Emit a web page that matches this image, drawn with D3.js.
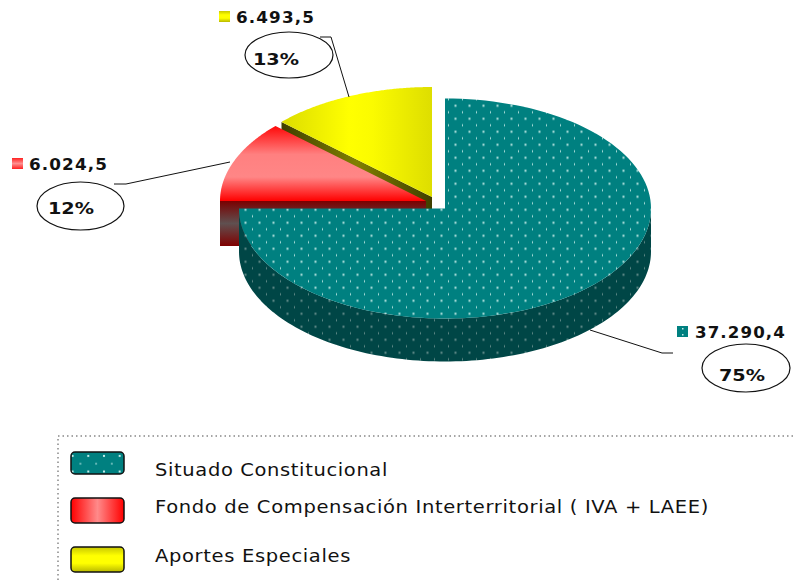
<!DOCTYPE html>
<html><head><meta charset="utf-8">
<script src="https://cdn.jsdelivr.net/npm/d3@7"></script>
<style>html,body{margin:0;background:#fff}svg{display:block}text{font-family:"DejaVu Sans",Verdana,sans-serif;fill:#111}</style>
</head><body><div id="c"></div>
<script>
const categories=["Situado Constitucional","Fondo de Compensación Interterritorial ( IVA + LAEE)","Aportes Especiales"];
const values=[37290.4,6024.5,6493.5];
const valueLabels=["37.290,4","6.024,5","6.493,5"];
const percentLabels=["75%","12%","13%"];

const W=793,H=582;
const svg=d3.select("#c").append("svg").attr("width",W).attr("height",H);
const defs=svg.append("defs");
function grad(id,x2,y2,stops){
  const g=defs.append("linearGradient").attr("id",id).attr("x1",0).attr("y1",0).attr("x2",x2).attr("y2",y2);
  stops.forEach(([o,c])=>g.append("stop").attr("offset",o).attr("stop-color",c));
}
grad("redTop",0,1,[[0,"#ff0808"],[.38,"#ff8080"],[.68,"#ff8686"],[1,"#ff0000"]]);
grad("redSide",0,1,[[0,"#7a0000"],[.5,"#5f5050"],[1,"#800000"]]);
grad("yelTop",1,0,[[0,"#dcdc00"],[.45,"#ffff00"],[.6,"#fbfb00"],[1,"#dede00"]]);
grad("yelCut",1,0,[[0,"#3f3f00"],[.5,"#808000"],[1,"#3f3f00"]]);
grad("redKey",1,0,[[0,"#ff0000"],[.5,"#ff8a8a"],[1,"#ff0000"]]);
grad("yelKey",0,1,[[0,"#c8c800"],[.35,"#ffff00"],[.65,"#ffff00"],[1,"#b8b800"]]);
grad("redMini",0,1,[[0,"#ff2020"],[.5,"#ff9090"],[1,"#ff2020"]]);
function dots(id,bg,dot,ox,oy,pw,ph){
  const p=defs.append("pattern").attr("id",id).attr("patternUnits","userSpaceOnUse")
    .attr("width",pw).attr("height",ph).attr("patternTransform",`translate(${ox},${oy})`);
  p.append("rect").attr("width",pw).attr("height",ph).attr("fill",bg);
  p.append("rect").attr("x",pw*.75-1).attr("y",ph*.25-1).attr("width",2).attr("height",2).attr("fill",dot);
  p.append("rect").attr("x",pw*.25-.5).attr("y",ph*.75-1).attr("width",1).attr("height",2).attr("fill",dot);
}
dots("teal","#008080","#b4e2de",445,102.5,14,13);
dots("tealDark","#004646","#648c8a",445,102.5,14,13);
dots("tealKey","#008080","#c4ecea",76.5,452,15.7,15.6);

const pie=d3.pie().sort(null).value(d=>d)(values);
const RX=206,RY=110,DEPTH=43;
const centers=[{x:445,y:208.5},{x:426,y:201},{x:432,y:197}];
const xS=d3.scaleLinear().domain([-1,1]).range([-RX,RX]);
const yS=d3.scaleLinear().domain([-1,1]).range([-RY,RY]);
const pt=(a,c,dy=0)=>[c.x+xS(Math.sin(a)),c.y-yS(Math.cos(a))+dy];
const arcPts=(a0,a1,c,dy=0)=>d3.range(0,121).map(i=>pt(a0+(a1-a0)*i/120,c,dy));
const line=d3.line();
const g=svg.append("g");

const yel=pie[2], red=pie[1], tea=pie[0];
const cy=centers[2], cr=centers[1], ct=centers[0];
const yTip=pt(yel.startAngle,cy);
g.append("path").attr("d",line([yTip,[cy.x,cy.y],[cy.x,cy.y+DEPTH],[yTip[0],yTip[1]+DEPTH]])+"Z").attr("fill","url(#yelCut)");
g.append("path").attr("d",line([[cy.x,cy.y],...arcPts(yel.startAngle,yel.endAngle,cy)])+"Z").attr("fill","url(#yelTop)");
const rL=pt(3*Math.PI/2,cr);
g.append("rect").attr("x",rL[0]).attr("y",cr.y).attr("width",cr.x-rL[0]).attr("height",DEPTH+2).attr("fill","url(#redSide)");
g.append("path").attr("d",line([[cr.x,cr.y],...arcPts(3*Math.PI/2,red.endAngle,cr)])+"Z").attr("fill","url(#redTop)");

g.append("path").attr("d",line([...arcPts(Math.PI/2,3*Math.PI/2,ct),...arcPts(3*Math.PI/2,Math.PI/2,ct,DEPTH)])+"Z").attr("fill","url(#tealDark)");
g.append("path").attr("d",line([[ct.x,ct.y],...arcPts(tea.startAngle,3*Math.PI/2,ct)])+"Z").attr("fill","url(#teal)");

const leaders=[[[590,330],[662,353],[673,353]],[[114,184],[126,184],[230,162]],[[320,37],[331,37],[349,97]]];
svg.selectAll("path.lead").data(leaders).join("path").attr("class","lead").attr("d",line).attr("fill","none").attr("stroke","#111").attr("stroke-width",1);

const mini=defs.append("pattern").attr("id","tealMini").attr("patternUnits","userSpaceOnUse").attr("width",11).attr("height",6).attr("patternTransform","translate(677,326)");
mini.append("rect").attr("width",11).attr("height",6).attr("fill","#008080");
mini.append("rect").attr("x",5).attr("y",2).attr("width",1.5).attr("height",1.5).attr("fill","#c4ecea");

const fills=["url(#tealMini)","url(#redMini)","url(#yelKey)"];
const labels=[{kx:677,ky:326,tx:695,ty:338,w:91,ex:746,ey:368,erx:44,ery:24,px:719,py:381},
 {kx:12,ky:158,tx:29,ty:170,w:79,ex:80.5,ey:206,erx:43.5,ery:24,px:48,py:214},
 {kx:219,ky:11,tx:236,ty:23,w:79,ex:289,ey:55,erx:44,ery:23,px:253,py:65}];
labels.forEach((l,i)=>{
  svg.append("rect").attr("x",l.kx).attr("y",l.ky).attr("width",11).attr("height",11).attr("fill",fills[i]);
  svg.append("text").attr("x",l.tx).attr("y",l.ty).attr("font-size",15).attr("font-weight","bold").attr("letter-spacing",1).attr("textLength",l.w).attr("lengthAdjust","spacingAndGlyphs").text(valueLabels[i]);
  svg.append("ellipse").attr("cx",l.ex).attr("cy",l.ey).attr("rx",l.erx).attr("ry",l.ery).attr("fill","#fff").attr("stroke","#111").attr("stroke-width",1.2);
  svg.append("text").attr("x",l.px).attr("y",l.py).attr("font-size",16).attr("font-weight","bold").attr("textLength",46).attr("lengthAdjust","spacingAndGlyphs").text(percentLabels[i]);
});

svg.append("path").attr("d",line([[793,436],[58,436],[58,582]])).attr("fill","none").attr("stroke","#888").attr("stroke-width",1.5).attr("stroke-dasharray","1.5 3");
const legend=[{y:452,h:22,fill:"url(#tealKey)",ty:476,w:233},{y:498,h:25,fill:"url(#redKey)",ty:513,w:554},{y:547,h:25,fill:"url(#yelKey)",ty:562,w:196}];
legend.forEach((l,i)=>{
  svg.append("rect").attr("x",71).attr("y",l.y).attr("width",53).attr("height",l.h).attr("rx",4).attr("fill",l.fill).attr("stroke","#111").attr("stroke-width",1.5);
  svg.append("text").attr("x",155).attr("y",l.ty).attr("font-size",18).attr("letter-spacing",.6).attr("textLength",l.w).attr("lengthAdjust","spacingAndGlyphs").text(categories[i]);
});
</script></body></html>
